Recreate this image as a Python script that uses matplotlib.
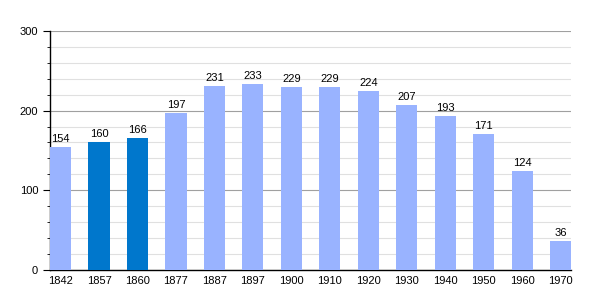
import matplotlib
matplotlib.use("Agg")
import matplotlib.pyplot as plt
from matplotlib.ticker import MultipleLocator

plt.rcParams['font.family'] = ['Liberation Sans', 'DejaVu Sans']

years = ['1842', '1857', '1860', '1877', '1887', '1897', '1900', '1910',
         '1920', '1930', '1940', '1950', '1960', '1970']
population = [154, 160, 166, 197, 231, 233, 229, 229, 224, 207, 193, 171, 124, 36]
highlight = ['1857', '1860']

light = '#99b3ff'
dark = '#0077cc'
colors = [dark if y in highlight else light for y in years]

fig = plt.figure(figsize=(6, 3), dpi=100)
ax = fig.add_axes([0.0833, 0.1, 0.8687, 0.797])

x = list(range(len(years)))
width = 0.55
ax.bar(x, population, width=width, color=colors, zorder=3)
for xi, v in zip(x, population):
    ax.text(xi, v + 4, str(v), ha='center', va='bottom', fontsize=8, zorder=4)

ax.set_xlim(-width / 2, len(years) - 1 + width / 2)
ax.set_ylim(0, 300)
ax.set_xticks(x)
ax.set_xticklabels(years, fontsize=8)
ax.tick_params(axis='x', length=0, pad=4)

ax.yaxis.set_major_locator(MultipleLocator(100))
ax.yaxis.set_minor_locator(MultipleLocator(20))
ax.tick_params(axis='y', which='major', length=5, labelsize=8, pad=3.5)
ax.tick_params(axis='y', which='minor', length=2)
ax.grid(axis='y', which='major', color='#a0a0a0', linewidth=0.8, zorder=0)
ax.grid(axis='y', which='minor', color='#e0e0e0', linewidth=0.8, zorder=0)

for s in ['top', 'right']:
    ax.spines[s].set_visible(False)
ax.spines['left'].set_linewidth(1.0)
ax.spines['bottom'].set_linewidth(1.0)

fig.savefig('out.png', dpi=100)
